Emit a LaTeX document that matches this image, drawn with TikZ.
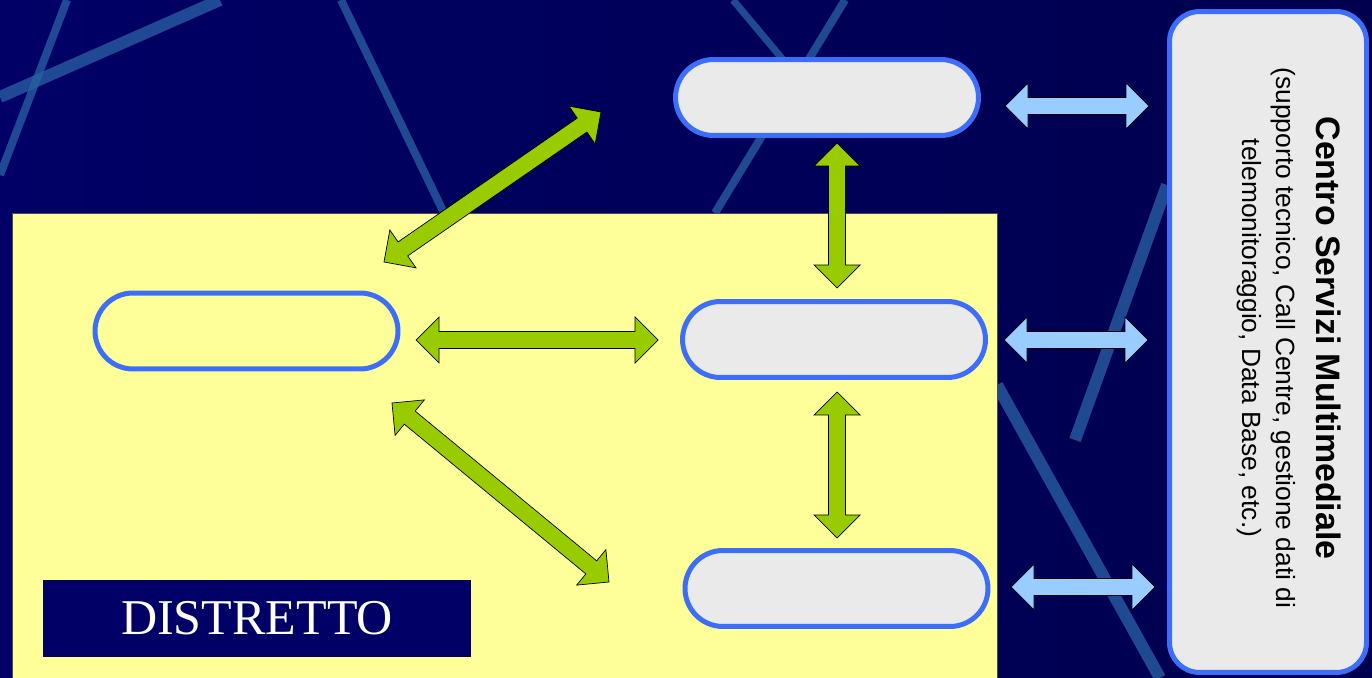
\documentclass[tikz,border=0pt]{standalone}
\usepackage{fontspec}
\setmainfont{Liberation Serif}
\setsansfont{Liberation Sans}
\usetikzlibrary{calc,shapes.misc}

\definecolor{navy}{RGB}{0,0,102}
\definecolor{navydark}{RGB}{0,0,78}
\definecolor{streak}{RGB}{42,98,165}
\definecolor{paleyellow}{RGB}{255,255,153}
\definecolor{pillblue}{RGB}{60,110,250}
\definecolor{pillgray}{RGB}{234,234,234}
\definecolor{leaf}{RGB}{153,204,0}
\definecolor{sky}{RGB}{153,204,255}

\tikzset{
  pill/.style={rounded rectangle, draw=pillblue, line width=0.1cm, inner sep=0pt,
    minimum width=6.06cm, minimum height=1.52cm},
  streakline/.style={streak, line width=#1, opacity=0.75},
}

% fat double arrow between two named points
\newcommand{\arrhead}{0.46cm}
\newcommand{\arrhalf}{0.46cm}
\newcommand{\arrshaft}{0.17cm}
\newcommand{\fatarrow}[3]{%
  \filldraw[fill=#1, draw=black, line width=0.4pt]
    (#2) -- ($(#2)!\arrhead!(#3)!\arrhalf!90:(#3)$) -- ($(#2)!\arrhead!(#3)!\arrshaft!90:(#3)$)
    -- ($(#3)!\arrhead!(#2)!\arrshaft!-90:(#2)$) -- ($(#3)!\arrhead!(#2)!\arrhalf!-90:(#2)$)
    -- (#3) -- ($(#3)!\arrhead!(#2)!\arrhalf!90:(#2)$) -- ($(#3)!\arrhead!(#2)!\arrshaft!90:(#2)$)
    -- ($(#2)!\arrhead!(#3)!\arrshaft!-90:(#3)$) -- ($(#2)!\arrhead!(#3)!\arrhalf!-90:(#3)$) -- cycle;}

\begin{document}
\begin{tikzpicture}[x=0.02cm, y=-0.02cm]
  \useasboundingbox (0,0) rectangle (1372,678);
  \shade[left color=navy, right color=navydark] (0,0) rectangle (1372,678);

  % background streaks
  \draw[streakline=0.24cm] (0,97) -- (220,0);
  \draw[streakline=0.16cm] (67,0) -- (0,175);
  \draw[streakline=0.16cm] (341,0) -- (444,213);
  \draw[streakline=0.14cm] (733,0) -- (800,80);
  \draw[streakline=0.16cm] (845,0) -- (715,213);
  \draw[streakline=0.24cm] (1167,185) -- (1075,440);
  \draw[streakline=0.24cm] (997,385) -- (1160,678);

  % district area
  \draw[fill=paleyellow, draw=black!70, line width=0.4pt] (12,213) rectangle (997,700);

  % nodes
  \node[pill, fill=pillgray] (T) at (827,97.5) {};
  \node[pill] (L) at (246.5,331) {};
  \node[pill, fill=pillgray] (M) at (834,339.5) {};
  \node[pill, fill=pillgray] (B) at (836.5,588.5) {};
  \node[draw=pillblue, fill=pillgray, line width=0.1cm, rounded corners=0.6cm,
    minimum width=3.94cm, minimum height=13.22cm] (C) at (1268,342) {};
  \node[rotate=-90, align=center, font=\sffamily\fontsize{15}{19.8}\selectfont] (Ctext) at (1289,338)
    {{\fontsize{19.3}{19.8}\selectfont\bfseries Centro Servizi Multimediale}\\[2.9pt]
     (supporto tecnico, Call Centre, gestione dati di\\ telemonitoraggio, Data Base, etc.)};
  \node[fill=navy, text=white, minimum width=8.56cm, minimum height=1.54cm,
    font=\fontsize{28.5}{30}\selectfont] (D) at (257,618.5) {DISTRETTO};

  % arrow ends
  \coordinate (T-s) at (837,143);  \coordinate (M-n) at (837,288);
  \coordinate (M-s) at (837,392);  \coordinate (B-n) at (837,538);
  \coordinate (L-e) at (416,340);  \coordinate (M-w) at (658,340);
  \coordinate (L-ne) at (384,262); \coordinate (T-sw) at (601,112);
  \coordinate (L-se) at (392,403); \coordinate (B-nw) at (609,582);
  \coordinate (T-e) at (1005,106); \coordinate (C-t) at (1149,106);
  \coordinate (M-e) at (1004,340); \coordinate (C-m) at (1148,340);
  \coordinate (B-e) at (1011,587); \coordinate (C-b) at (1155,587);

  \fatarrow{leaf}{T-s}{M-n}
  \fatarrow{leaf}{M-s}{B-n}
  \fatarrow{leaf}{L-e}{M-w}
  \fatarrow{leaf}{L-ne}{T-sw}
  \fatarrow{leaf}{L-se}{B-nw}
  \fatarrow{sky}{T-e}{C-t}
  \fatarrow{sky}{M-e}{C-m}
  \fatarrow{sky}{B-e}{C-b}
\end{tikzpicture}
\end{document}
